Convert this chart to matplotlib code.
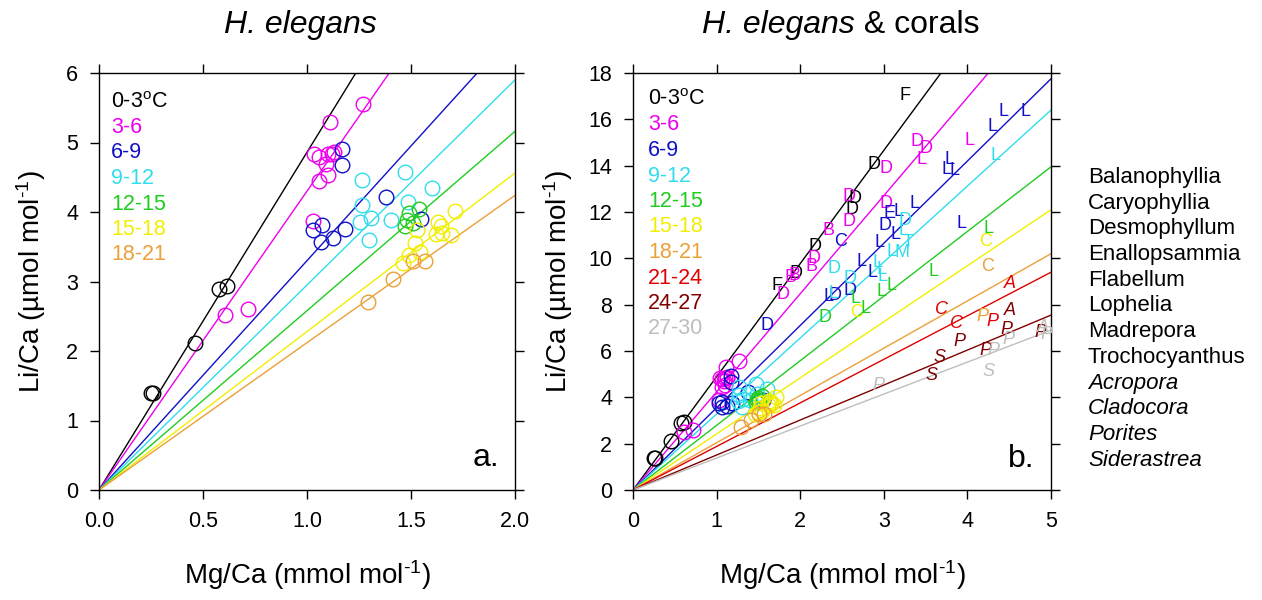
import numpy as np
import matplotlib
matplotlib.use("Agg")
import matplotlib.pyplot as plt

plt.rcParams['font.family'] = ['Liberation Sans', 'DejaVu Sans']
plt.rcParams['mathtext.fontset'] = 'custom'
plt.rcParams['mathtext.rm'] = 'Liberation Sans'
plt.rcParams['mathtext.it'] = 'Liberation Sans:italic'

# temperature bins (deg C) and their colours
temp_labels = ['0-3$^{\\mathrm{o}}$C', '3-6', '6-9', '9-12', '12-15', '15-18',
               '18-21', '21-24', '24-27', '27-30']
temp_colors = ['#000000', '#EE00EE', '#1010C8', '#30DDEE', '#20CC20', '#F2EE00',
               '#EBA038', '#E00000', '#800000', '#BEBEBE']

# H. elegans Mg/Ca and Li/Ca, one list per temperature bin
he_mg = [
    [0.25, 0.26, 0.46, 0.575, 0.615],
    [0.605, 0.715, 1.27, 1.11, 1.035, 1.06, 1.10, 1.12, 1.13, 1.09, 1.10, 1.06, 1.03],
    [1.17, 1.17, 1.38, 1.03, 1.07, 1.065, 1.125, 1.185, 1.55],
    [1.265, 1.47, 1.60, 1.265, 1.255, 1.31, 1.30, 1.405, 1.485],
    [1.48, 1.49, 1.54, 1.51, 1.47],
    [1.71, 1.63, 1.645, 1.62, 1.69, 1.65, 1.52, 1.545, 1.49, 1.46, 1.53],
    [1.295, 1.415, 1.51, 1.565],
]
he_li = [
    [1.40, 1.40, 2.12, 2.89, 2.93],
    [2.52, 2.61, 5.56, 5.29, 4.84, 4.79, 4.84, 4.83, 4.86, 4.69, 4.53, 4.45, 3.87],
    [4.90, 4.68, 4.21, 3.74, 3.81, 3.57, 3.62, 3.76, 3.90],
    [4.46, 4.57, 4.35, 4.10, 3.85, 3.91, 3.60, 3.88, 4.14],
    [3.88, 3.99, 4.04, 3.84, 3.80],
    [4.01, 3.86, 3.80, 3.69, 3.67, 3.70, 3.55, 3.43, 3.38, 3.26, 3.74],
    [2.70, 3.03, 3.29, 3.30],
]

# Li/Ca = slope * Mg/Ca regressions for each bin
slopes_a = [4.86, 4.30, 3.30, 2.95, 2.58, 2.28, 2.12]
slopes_b = [4.886, 4.235, 3.55, 3.28, 2.79, 2.42, 2.04, 1.88, 1.51, 1.38]

# coral genera; the last four are zooxanthellate (drawn in italics)
genera = ['Balanophyllia', 'Caryophyllia', 'Desmophyllum', 'Enallopsammia',
          'Flabellum', 'Lophelia', 'Madrepora', 'Trochocyanthus',
          'Acropora', 'Cladocora', 'Porites', 'Siderastrea']
italic_genera = ['Acropora', 'Cladocora', 'Porites', 'Siderastrea']
# code -> genus (lower case codes are the italic genera)
code_genus = {'B': 'Balanophyllia', 'C': 'Caryophyllia', 'D': 'Desmophyllum',
              'E': 'Enallopsammia', 'F': 'Flabellum', 'L': 'Lophelia',
              'M': 'Madrepora', 'T': 'Trochocyanthus', 'a': 'Acropora',
              'c': 'Cladocora', 'p': 'Porites', 's': 'Siderastrea'}

# coral data: Mg/Ca, Li/Ca, genus code, temperature bin
coral_mg = [3.25, 2.88, 2.66, 2.62, 2.18, 1.95, 1.72,
            3.40, 3.51, 3.45, 4.02, 3.03, 3.03, 2.58, 2.58, 2.34, 2.17, 2.14, 1.88, 1.93, 1.80,
            4.43, 4.70, 4.30, 3.78, 3.75, 3.85, 3.37, 3.07, 3.18, 3.01, 3.14, 2.95, 2.48, 3.93,
            2.73, 2.87, 2.60, 2.34, 2.42, 1.60,
            4.34, 3.25, 3.23, 3.29, 3.22, 3.09, 2.93, 2.97, 2.40, 2.60, 2.99, 2.40,
            4.25, 3.59, 3.09, 2.97, 2.66, 2.78, 2.30,
            4.22, 2.68,
            4.24, 4.18,
            4.51, 3.69, 3.87, 4.30,
            4.51, 4.47, 3.91, 4.21, 3.67, 3.57, 4.87,
            4.49, 4.31, 4.25, 2.93, 4.90, 4.95]
coral_li = [17.05, 14.03, 12.59, 12.11, 10.53, 9.35, 8.82,
            15.03, 14.75, 14.27, 15.10, 13.88, 12.37, 12.66, 11.58, 11.22, 10.00, 9.64, 9.18, 9.27, 8.42,
            16.33, 16.33, 15.68, 14.27, 13.84, 13.81, 12.37, 11.94, 12.01, 11.40, 11.05, 10.67, 10.72, 11.51,
            9.88, 9.38, 8.63, 8.34, 8.40, 7.08,
            14.42, 11.65, 11.22, 10.68, 10.26, 10.30, 9.80, 9.50, 9.55, 9.14, 9.21, 8.49,
            11.29, 9.42, 8.82, 8.56, 8.25, 7.85, 7.45,
            10.72, 7.68,
            9.64, 7.48,
            8.92, 7.80, 7.19, 7.26,
            7.73, 6.93, 6.40, 6.04, 5.73, 4.96, 6.78,
            6.50, 6.04, 5.11, 4.53, 7.03, 6.70]
coral_code = ['F', 'D', 'D', 'D', 'D', 'D', 'F',
              'D', 'D', 'L', 'L', 'D', 'D', 'D', 'D', 'B', 'D', 'B', 'B', 'B', 'D',
              'L', 'L', 'L', 'L', 'L', 'L', 'L', 'E', 'L', 'D', 'L', 'L', 'C', 'L',
              'L', 'L', 'D', 'L', 'D', 'D',
              'L', 'D', 'L', 'T', 'M', 'L', 'L', 'L', 'D', 'D', 'L', 'L',
              'L', 'L', 'L', 'L', 'L', 'L', 'D',
              'C', 'C',
              'C', 'p',
              'a', 'c', 'c', 'p',
              'a', 'p', 'p', 'p', 's', 's', 'p',
              'p', 'p', 's', 'p', 'a', 'p']
coral_bin = [0] * 7 + [1] * 14 + [2] * 20 + [3] * 12 + [4] * 7 + [5] * 2 + [6] * 2 \
    + [7] * 4 + [8] * 7 + [9] * 6

fig = plt.figure(figsize=(12.62, 6.0), dpi=100)
W, H = 1262.0, 600.0
ax_a = fig.add_axes([99 / W, 110 / H, 416 / W, 417 / H])
ax_b = fig.add_axes([633 / W, 110 / H, 418 / W, 417 / H])


def style_axes(ax, xmax, ymax, xticks, yticks, xfmt):
    ax.set_xlim(0, xmax)
    ax.set_ylim(0, ymax)
    ax.set_xticks(xticks)
    ax.set_yticks(yticks)
    ax.set_xticklabels([xfmt.format(v) for v in xticks])
    ax.tick_params(direction='out', length=6.5, width=1.0, labelsize=15.5,
                   top=True, right=True)
    ax.tick_params(axis='x', pad=8.5)
    ax.tick_params(axis='y', pad=8.5)
    for sp in ax.spines.values():
        sp.set_linewidth(1.0)


def draw_lines(ax, slopes, xmax):
    xs = np.array([0.0, xmax])
    for k, s in enumerate(slopes):
        ax.plot(xs, s * xs, color=temp_colors[k], lw=1.0, zorder=2)


def draw_circles(ax):
    for k in range(len(he_mg)):
        ax.plot(he_mg[k], he_li[k], 'o', mfc='none', mec=temp_colors[k],
                ms=10.5, mew=1.0, zorder=3)


def draw_key(ax, n, x0, y0_px):
    for k in range(n):
        ax.text(x0, 1 - (y0_px + 25.5 * k) / 417, temp_labels[k],
                transform=ax.transAxes, color=temp_colors[k], fontsize=15.5,
                ha='left', va='baseline')


# panel a: H. elegans only
draw_lines(ax_a, slopes_a, 2.0)
draw_circles(ax_a)
style_axes(ax_a, 2.0, 6, [0, 0.5, 1.0, 1.5, 2.0], range(0, 7), '{:.1f}')
draw_key(ax_a, 7, 12 / 416, 107.5 - 73)
ax_a.text(0.898, 0.058, 'a.', transform=ax_a.transAxes, fontsize=23,
          ha='left', va='baseline')

# panel b: H. elegans plus corals
draw_lines(ax_b, slopes_b, 5.0)
draw_circles(ax_b)
for x, y, code, k in zip(coral_mg, coral_li, coral_code, coral_bin):
    genus = code_genus[code]
    ax_b.text(x, y, code.upper(), color=temp_colors[k], fontsize=13,
              ha='center', va='center', zorder=4,
              style='italic' if genus in italic_genera else 'normal')
style_axes(ax_b, 5, 18, range(0, 6), range(0, 19, 2), '{:d}')
draw_key(ax_b, 10, 15 / 418, 105 - 73)
ax_b.text(0.897, 0.055, 'b.', transform=ax_b.transAxes, fontsize=23,
          ha='left', va='baseline')

# titles: the second one mixes an italic species name with upright text
fig.text(300 / W, 1 - 33 / H, 'H. elegans', fontsize=23, style='italic',
         ha='center', va='baseline')
renderer = fig.canvas.get_renderer()
t1 = fig.text(0, 1 - 33 / H, 'H. elegans', fontsize=23, style='italic',
              ha='left', va='baseline')
t2 = fig.text(0, 1 - 33 / H, ' & corals', fontsize=23,
              ha='left', va='baseline')
w1 = t1.get_window_extent(renderer).width
w2 = t2.get_window_extent(renderer).width
x_start = 841 - (w1 + w2) / 2
t1.set_x(x_start / W)
t2.set_x((x_start + w1) / W)

sup = '$^{\\text{-1}}$'
for xc in (307, 842):
    fig.text(xc / W, 1 - 575 / H, 'Mg/Ca (mmol mol' + sup + ')',
             fontsize=20, ha='center', va='center')
for xc in (31, 558):
    fig.text(xc / W, 1 - 282 / H, 'Li/Ca (\u00b5mol mol' + sup + ')',
             fontsize=20, rotation=90, ha='center', va='center')

# genus key
for i, g in enumerate(genera):
    fig.text(1088 / W, 1 - (183 + 25.7 * i) / H, g, fontsize=16,
             style='italic' if g in italic_genera else 'normal',
             ha='left', va='baseline')

fig.savefig('out.png', dpi=100)
